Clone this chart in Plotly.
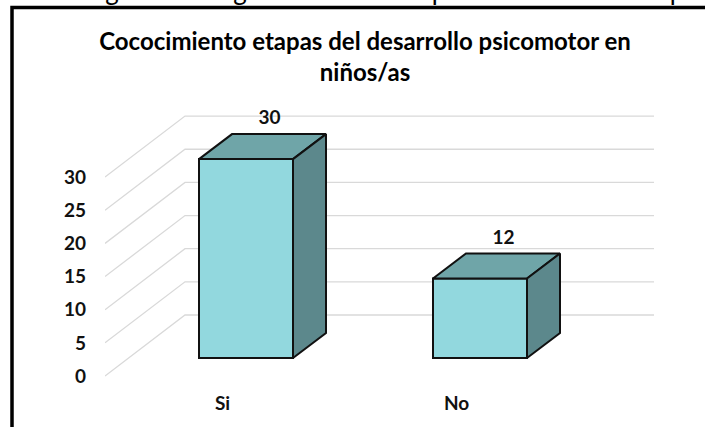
import plotly.graph_objects as go

categorias = ['Si', 'No']
valores = [30, 12]
ticks_y = [0, 5, 10, 15, 20, 25, 30]
titulo = 'Cococimiento etapas del desarrollo psicomotor en<br>niños/as'
# restos de la linea de texto cortada arriba de la imagen
letras_cortadas = ['g', 'g', 'p', 'p']
letras_x = [112, 240, 439, 677]

W, H = 705, 427
ML, MR, MT, MB = 105, 0, 5, 37
FUENTE = 'Lato'

# escala: px por unidad en cada eje
px_y = 6.63
px_x = 234.0
x_bar = [0, 1]
ancho = 94 / px_x
base = 18 / px_y
prof_x, prof_y = 33 / px_x, 25 / px_y
pared_x, pared_y = 80 / px_x, 61 / px_y

rango_x = [-141 / px_x, 459 / px_x]
rango_y = [-14 / px_y, 371 / px_y]
fin_rejilla = 408 / px_x


def paper_x(px):
  return (px - ML) / (W - ML - MR)


def paper_y(py):
  return 1 - (py - MT) / (H - MT - MB)


fig = go.Figure()

# cara frontal
fig.add_trace(go.Bar(x=x_bar, y=valores, base=base, width=ancho, marker=dict(color='#92D8DE', line=dict(color='#111111', width=2)),
                     hoverinfo='skip', showlegend=False))

# cara superior y lateral
for xc, v in zip(x_bar, valores):
  x0, x1 = xc - ancho / 2, xc + ancho / 2
  y0, y1 = base, base + v
  fig.add_trace(go.Scatter(x=[x0, x0 + prof_x, x1 + prof_x, x1, x0], y=[y1, y1 + prof_y, y1 + prof_y, y1, y1], mode='lines', fill='toself',
                           fillcolor='#6FA5A8', line=dict(color='#111111', width=2), hoverinfo='skip', showlegend=False))
  fig.add_trace(go.Scatter(x=[x1, x1 + prof_x, x1 + prof_x, x1, x1], y=[y1, y1 + prof_y, y0 + prof_y, y0, y1], mode='lines', fill='toself',
                           fillcolor='#5C888C', line=dict(color='#111111', width=2), hoverinfo='skip', showlegend=False))

# etiquetas de valor
fig.add_trace(go.Scatter(x=[xc + 0.1 for xc in x_bar], y=[base + v + prof_y + 2.2 for v in valores], mode='text', text=[str(v) for v in valores],
                         textposition='middle center', textfont=dict(family=FUENTE, size=19, color='#111111', weight='bold'),
                         hoverinfo='skip', showlegend=False))

# letras de la linea cortada: el punto queda dentro del rango y el texto sale por encima
fig.add_trace(go.Scatter(x=[(lx - 246) / px_x for lx in letras_x], y=[(376 - 6) / px_y] * 4, mode='text', text=letras_cortadas,
                         textposition='top center', textfont=dict(family=FUENTE, size=26, color='#000000'), cliponaxis=False,
                         hoverinfo='skip', showlegend=False))

# rejilla: pared lateral y pared del fondo
for t in ticks_y:
  fig.add_shape(type='path', layer='below', xref='x', yref='y',
                path=f'M {rango_x[0]} {t} L {rango_x[0] + pared_x} {t + pared_y} L {fin_rejilla} {t + pared_y}',
                line=dict(color='#D9D9D9', width=1.3))

# marco negro
fig.add_shape(type='path', xref='paper', yref='paper', layer='above',
              path=f'M {paper_x(12)} {paper_y(430)} L {paper_x(12)} {paper_y(7.5)} L {paper_x(708)} {paper_y(7.5)}',
              line=dict(color='#000000', width=3.5))

fig.update_layout(
  width=W, height=H,
  margin=dict(l=ML, r=MR, t=MT, b=MB, pad=0),
  paper_bgcolor='white', plot_bgcolor='white',
  showlegend=False,
  title=dict(text=titulo, x=365 / W, xanchor='center', y=1 - 50 / H, yanchor='middle',
             font=dict(family=FUENTE, size=24, color='#000000', weight='bold')),
  font=dict(family=FUENTE, size=19, color='#111111'),
)
fig.update_xaxes(range=rango_x, tickmode='array', tickvals=[xc - 0.1 for xc in x_bar], ticktext=categorias, showgrid=False, zeroline=False,
                 showline=False, ticks='', tickfont=dict(family=FUENTE, size=19, color='#111111', weight='bold'))
fig.update_yaxes(range=rango_y, tickmode='array', tickvals=ticks_y, showgrid=False, zeroline=False, showline=False, ticks='',
                 ticklabelstandoff=18, tickfont=dict(family=FUENTE, size=19, color='#111111', weight='bold'))

# quitar el margen del body para que el lienzo ocupe toda la ventana
fig.write_html("out.html", config={'displayModeBar': False},
               post_script="document.body.style.margin='0';document.body.style.overflow='hidden';")
